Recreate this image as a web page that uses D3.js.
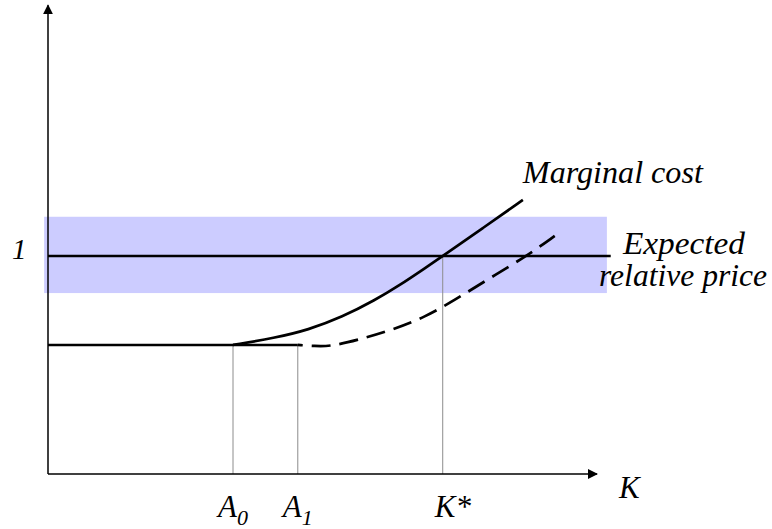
<!DOCTYPE html>
<html>
<head>
<meta charset="utf-8">
<script src="https://d3js.org/d3.v7.min.js"></script>
<style>
  body { margin: 0; background: #fff; }
</style>
</head>
<body>
<svg id="chart" width="772" height="529"></svg>
<script>
// data (K on x, relative price / marginal cost on y, price = 1)
var priceLevel = 1;
var bandLow = 0.83, bandHigh = 1.18;
var flatLevel = 0.592;
var markK = [3.37, 4.55, 7.19];
var markLabels = ["A", "A", "K*"];
var markSubs = ["0", "1", ""];
var markTop = [0.592, 0.592, 1.0];

// marginal cost, current (starts at A0)
var mcK = [3.37, 4.13, 4.74, 5.36, 5.96, 6.38, 6.87, 7.19, 7.92, 8.65];
var mcV = [0.592, 0.624, 0.661, 0.720, 0.798, 0.862, 0.945, 1.0, 1.128, 1.257];
// marginal cost, shifted (dashed, starts at A1)
var mc2K = [4.55, 4.86, 5.14, 5.65, 6.27, 6.87, 7.41, 8.05, 8.72, 9.23];
var mc2V = [0.592, 0.587, 0.585, 0.615, 0.661, 0.720, 0.798, 0.899, 1.0, 1.092];

var serif = "'Liberation Serif', 'Times New Roman', 'Noto Serif', 'DejaVu Serif', FreeSerif, serif";

var svg = d3.select("#chart")
    .attr("font-family", serif)
    .attr("font-style", "italic");
var x = d3.scaleLinear().domain([0, 10]).range([48, 597]);
var y = d3.scaleLinear().domain([0, 1]).range([474, 256]);

// arrow head
svg.append("defs").append("marker")
    .attr("id", "arrow")
    .attr("viewBox", "0 0 10 10")
    .attr("refX", 9).attr("refY", 5)
    .attr("markerWidth", 10).attr("markerHeight", 10)
    .attr("markerUnits", "userSpaceOnUse")
    .attr("orient", "auto")
  .append("path")
    .attr("d", "M0,0 L10,5 L0,10 z")
    .attr("fill", "#000");

// shaded band round the expected price
svg.append("rect")
    .attr("x", x(-0.07))
    .attr("y", y(bandHigh))
    .attr("width", x(10.18) - x(-0.07))
    .attr("height", y(bandLow) - y(bandHigh))
    .attr("fill", "#ccccff");

// vertical drop lines
svg.selectAll("line.drop")
    .data(markK)
    .enter().append("line")
    .attr("class", "drop")
    .attr("x1", function(d) { return x(d); })
    .attr("x2", function(d) { return x(d); })
    .attr("y1", y(0))
    .attr("y2", function(d, i) { return y(markTop[i]); })
    .attr("stroke", "#8c8c8c")
    .attr("stroke-width", 1);

// axes
svg.append("line")
    .attr("x1", x(0)).attr("y1", y(0))
    .attr("x2", x(0)).attr("y2", y(2.15))
    .attr("stroke", "#000").attr("stroke-width", 1.5)
    .attr("marker-end", "url(#arrow)");
svg.append("line")
    .attr("x1", x(0)).attr("y1", y(0))
    .attr("x2", x(10)).attr("y2", y(0))
    .attr("stroke", "#000").attr("stroke-width", 1.5)
    .attr("marker-end", "url(#arrow)");

// expected relative price line
svg.append("line")
    .attr("x1", x(0)).attr("x2", x(10.25))
    .attr("y1", y(priceLevel)).attr("y2", y(priceLevel))
    .attr("stroke", "#000").attr("stroke-width", 2.5);

var line = d3.line()
    .x(function(d) { return x(d[0]); })
    .y(function(d) { return y(d[1]); })
    .curve(d3.curveBasis);

// flat part up to A1
svg.append("line")
    .attr("x1", x(0)).attr("x2", x(markK[1]))
    .attr("y1", y(flatLevel)).attr("y2", y(flatLevel))
    .attr("stroke", "#000").attr("stroke-width", 2.5);

svg.append("path")
    .datum(d3.zip(mcK, mcV))
    .attr("d", line)
    .attr("fill", "none")
    .attr("stroke", "#000")
    .attr("stroke-width", 2.7);

svg.append("path")
    .datum(d3.zip(mc2K, mc2V))
    .attr("d", line)
    .attr("fill", "none")
    .attr("stroke", "#000")
    .attr("stroke-width", 2.7)
    .attr("stroke-dasharray", "19,9")
    .attr("stroke-dashoffset", -14);

// labels
var lab = svg.selectAll("text.mark")
    .data(markK)
    .enter().append("text")
    .attr("class", "mark")
    .attr("x", function(d, i) { return x(d) - (markSubs[i] ? 15 : 8); })
    .attr("y", 517)
    .attr("font-size", 31);
lab.append("tspan").text(function(d, i) { return markLabels[i]; });
lab.append("tspan")
    .attr("dy", 8)
    .attr("font-size", 22)
    .text(function(d, i) { return markSubs[i]; });

svg.append("text").attr("x", x(10.4)).attr("y", 498).attr("font-size", 31).text("K");
svg.append("text").attr("x", 12).attr("y", y(priceLevel) + 3).attr("font-size", 29).text("1");
svg.append("text").attr("x", x(8.65)).attr("y", 183).attr("font-size", 31)
    .attr("textLength", 180).attr("lengthAdjust", "spacingAndGlyphs").text("Marginal cost");
svg.append("text").attr("x", 623).attr("y", 254).attr("font-size", 31)
    .attr("textLength", 122).attr("lengthAdjust", "spacingAndGlyphs").text("Expected");
svg.append("text").attr("x", 599).attr("y", 286).attr("font-size", 31)
    .attr("textLength", 168).attr("lengthAdjust", "spacingAndGlyphs").text("relative price");
</script>
</body>
</html>
